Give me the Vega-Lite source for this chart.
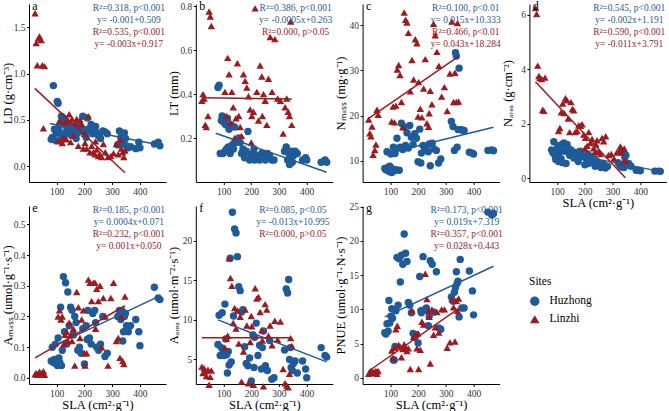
{
  "$schema": "https://vega.github.io/schema/vega-lite/v6.json",
  "background": "white",
  "padding": {"left": 1, "top": 0, "right": 0, "bottom": 0},
  "config": {
    "view": {"stroke": null},
    "font": "Liberation Serif",
    "axis": {"grid": false, "domainColor": "#000", "tickColor": "#000", "labelColor": "#333", "titleColor": "#000",
             "labelFont": "Liberation Serif", "titleFont": "Liberation Serif", "labelFontSize": 9.5, "titleFontSize": 12.5,
             "titleFontWeight": "normal", "tickSize": 2.5, "labelPadding": 1.5, "domainWidth": 1, "tickWidth": 1, "labelOverlap": false},
    "axisY": {"minExtent": 15, "maxExtent": 15, "titlePadding": 0},
    "axisX": {"titlePadding": 1},
    "range": {"category": ["#1f5b98", "#9c1b1f"], "symbol": ["circle", "triangle-up"]},
    "point": {"filled": true, "opacity": 1, "size": 55},
    "text": {"font": "Liberation Serif", "fontSize": 9.5},
    "legend": {"orient": "none", "legendX": 500, "legendY": 272, "titleFont": "Liberation Serif", "labelFont": "Liberation Serif",
               "titleFontSize": 11.5, "labelFontSize": 11.5, "titleFontWeight": "normal", "symbolSize": 90, "rowPadding": 2,
               "titlePadding": 8, "labelOffset": 9, "titleColor": "#000", "labelColor": "#000"}
  },
  "datasets": {
    "pts": [
      {"Site":"Huzhong","SLA":80,"LD":0.29,"LT":0.43,"Nmass":8.3,"Narea":1.05,"Amass":0.055,"Aarea":6.9,"PNUE":6.6},
      {"Site":"Huzhong","SLA":84,"LD":0.31,"LT":0.44,"Nmass":8.0,"Narea":0.95,"Amass":0.10,"Aarea":10.6,"PNUE":6.4},
      {"Site":"Huzhong","SLA":88,"LD":0.87,"LT":0.13,"Nmass":12.0,"Narea":1.35,"Amass":0.05,"Aarea":5.5,"PNUE":7.9},
      {"Site":"Huzhong","SLA":92,"LD":0.40,"LT":0.28,"Nmass":8.6,"Narea":0.85,"Amass":0.06,"Aarea":6.5,"PNUE":6.8},
      {"Site":"Huzhong","SLA":95,"LD":0.28,"LT":0.30,"Nmass":7.6,"Narea":0.70,"Amass":0.11,"Aarea":10.9,"PNUE":11.3},
      {"Site":"Huzhong","SLA":98,"LD":0.36,"LT":0.13,"Nmass":8.8,"Narea":1.00,"Amass":0.06,"Aarea":5.8,"PNUE":8.0},
      {"Site":"Huzhong","SLA":102,"LD":0.70,"LT":0.27,"Nmass":11.5,"Narea":1.20,"Amass":0.04,"Aarea":5.5,"PNUE":9.0},
      {"Site":"Huzhong","SLA":105,"LD":0.68,"LT":0.14,"Nmass":7.4,"Narea":0.62,"Amass":0.13,"Aarea":12.0,"PNUE":10.1},
      {"Site":"Huzhong","SLA":108,"LD":0.42,"LT":0.26,"Nmass":8.2,"Narea":0.95,"Amass":0.065,"Aarea":7.6,"PNUE":8.7},
      {"Site":"Huzhong","SLA":111,"LD":0.35,"LT":0.15,"Nmass":13.0,"Narea":1.10,"Amass":0.05,"Aarea":5.6,"PNUE":2.6},
      {"Site":"Huzhong","SLA":114,"LD":0.46,"LT":0.29,"Nmass":7.8,"Narea":0.72,"Amass":0.23,"Aarea":3.3,"PNUE":2.6},
      {"Site":"Huzhong","SLA":117,"LD":0.54,"LT":0.16,"Nmass":11.6,"Narea":1.25,"Amass":0.04,"Aarea":6.0,"PNUE":4.6},
      {"Site":"Huzhong","SLA":120,"LD":0.31,"LT":0.24,"Nmass":8.0,"Narea":0.58,"Amass":0.09,"Aarea":4.3,"PNUE":9.8},
      {"Site":"Huzhong","SLA":124,"LD":0.52,"LT":0.13,"Nmass":15.0,"Narea":1.30,"Amass":0.33,"Aarea":17.8,"PNUE":17.6},
      {"Site":"Huzhong","SLA":128,"LD":0.36,"LT":0.26,"Nmass":12.8,"Narea":1.00,"Amass":0.15,"Aarea":4.7,"PNUE":10.6},
      {"Site":"Huzhong","SLA":132,"LD":0.49,"LT":0.17,"Nmass":7.9,"Narea":0.55,"Amass":0.31,"Aarea":23.6,"PNUE":17.4},
      {"Site":"Huzhong","SLA":136,"LD":0.42,"LT":0.15,"Nmass":13.0,"Narea":1.25,"Amass":0.11,"Aarea":10.5,"PNUE":14.0},
      {"Site":"Huzhong","SLA":140,"LD":0.35,"LT":0.25,"Nmass":18.3,"Narea":1.10,"Amass":0.28,"Aarea":21.5,"PNUE":17.9},
      {"Site":"Huzhong","SLA":145,"LD":0.44,"LT":0.18,"Nmass":12.5,"Narea":0.85,"Amass":0.17,"Aarea":21.0,"PNUE":16.6},
      {"Site":"Huzhong","SLA":150,"LD":0.38,"LT":0.19,"Nmass":17.5,"Narea":1.05,"Amass":0.23,"Aarea":18.0,"PNUE":21.0},
      {"Site":"Huzhong","SLA":155,"LD":0.33,"LT":0.20,"Nmass":13.4,"Narea":0.92,"Amass":0.22,"Aarea":14.2,"PNUE":18.2},
      {"Site":"Huzhong","SLA":160,"LD":0.41,"LT":0.18,"Nmass":16.2,"Narea":0.75,"Amass":0.14,"Aarea":13.7,"PNUE":17.0},
      {"Site":"Huzhong","SLA":165,"LD":0.36,"LT":0.13,"Nmass":12.8,"Narea":0.95,"Amass":0.20,"Aarea":11.0,"PNUE":11.0},
      {"Site":"Huzhong","SLA":170,"LD":0.30,"LT":0.15,"Nmass":17.8,"Narea":0.80,"Amass":0.18,"Aarea":11.3,"PNUE":10.6},
      {"Site":"Huzhong","SLA":176,"LD":0.36,"LT":0.11,"Nmass":15.2,"Narea":0.62,"Amass":0.09,"Aarea":6.6,"PNUE":9.5},
      {"Site":"Huzhong","SLA":182,"LD":0.44,"LT":0.14,"Nmass":13.6,"Narea":1.00,"Amass":0.10,"Aarea":4.5,"PNUE":6.5},
      {"Site":"Huzhong","SLA":188,"LD":0.42,"LT":0.23,"Nmass":16.0,"Narea":0.85,"Amass":0.08,"Aarea":4.2,"PNUE":5.9},
      {"Site":"Huzhong","SLA":194,"LD":0.54,"LT":0.10,"Nmass":15.0,"Narea":0.80,"Amass":0.16,"Aarea":5.2,"PNUE":6.3},
      {"Site":"Huzhong","SLA":200,"LD":0.36,"LT":0.12,"Nmass":9.8,"Narea":0.50,"Amass":0.045,"Aarea":2.3,"PNUE":5.1},
      {"Site":"Huzhong","SLA":206,"LD":0.31,"LT":0.13,"Nmass":17.0,"Narea":0.72,"Amass":0.17,"Aarea":8.1,"PNUE":14.8},
      {"Site":"Huzhong","SLA":210,"LD":0.52,"LT":0.15,"Nmass":9.5,"Narea":0.90,"Amass":0.125,"Aarea":4.0,"PNUE":9.8},
      {"Site":"Huzhong","SLA":212,"LD":0.40,"LT":0.10,"Nmass":11.7,"Narea":0.55,"Amass":0.22,"Aarea":7.8,"PNUE":9.5},
      {"Site":"Huzhong","SLA":218,"LD":0.38,"LT":0.11,"Nmass":13.4,"Narea":0.68,"Amass":0.13,"Aarea":9.6,"PNUE":17.7},
      {"Site":"Huzhong","SLA":224,"LD":0.45,"LT":0.12,"Nmass":12.5,"Narea":0.60,"Amass":0.11,"Aarea":5.5,"PNUE":10.0},
      {"Site":"Huzhong","SLA":230,"LD":0.35,"LT":0.10,"Nmass":13.1,"Narea":0.82,"Amass":0.21,"Aarea":6.8,"PNUE":10.2},
      {"Site":"Huzhong","SLA":237,"LD":0.40,"LT":0.13,"Nmass":12.0,"Narea":0.45,"Amass":0.22,"Aarea":3.8,"PNUE":7.6},
      {"Site":"Huzhong","SLA":240,"LD":0.43,"LT":0.12,"Nmass":13.7,"Narea":0.65,"Amass":0.18,"Aarea":6.5,"PNUE":9.0},
      {"Site":"Huzhong","SLA":244,"LD":0.36,"LT":0.11,"Nmass":8.9,"Narea":0.62,"Amass":0.10,"Aarea":8.6,"PNUE":17.1},
      {"Site":"Huzhong","SLA":251,"LD":0.33,"LT":0.10,"Nmass":13.9,"Narea":0.50,"Amass":0.09,"Aarea":4.2,"PNUE":16.6},
      {"Site":"Huzhong","SLA":258,"LD":0.30,"LT":0.13,"Nmass":12.6,"Narea":0.40,"Amass":0.11,"Aarea":3.6,"PNUE":9.6},
      {"Site":"Huzhong","SLA":266,"LD":0.38,"LT":0.12,"Nmass":12.3,"Narea":0.55,"Amass":0.20,"Aarea":7.4,"PNUE":15.5},
      {"Site":"Huzhong","SLA":274,"LD":0.37,"LT":0.10,"Nmass":9.5,"Narea":0.38,"Amass":0.07,"Aarea":2.5,"PNUE":7.3},
      {"Site":"Huzhong","SLA":282,"LD":0.35,"LT":0.10,"Nmass":10.4,"Narea":0.45,"Amass":0.08,"Aarea":2.7,"PNUE":7.1},
      {"Site":"Huzhong","SLA":320,"LD":0.23,"LT":0.14,"Nmass":18.7,"Narea":0.58,"Amass":0.20,"Aarea":6.2,"PNUE":11.8},
      {"Site":"Huzhong","SLA":326,"LD":0.38,"LT":0.16,"Nmass":17.6,"Narea":0.48,"Amass":0.22,"Aarea":13.9,"PNUE":11.2},
      {"Site":"Huzhong","SLA":331,"LD":0.31,"LT":0.10,"Nmass":12.3,"Narea":0.42,"Amass":0.19,"Aarea":13.4,"PNUE":12.5},
      {"Site":"Huzhong","SLA":335,"LD":0.26,"LT":0.13,"Nmass":33.9,"Narea":1.00,"Amass":0.22,"Aarea":15.1,"PNUE":13.2},
      {"Site":"Huzhong","SLA":338,"LD":0.28,"LT":0.08,"Nmass":33.2,"Narea":0.95,"Amass":0.12,"Aarea":5.0,"PNUE":15.5},
      {"Site":"Huzhong","SLA":341,"LD":0.24,"LT":0.11,"Nmass":13.0,"Narea":0.40,"Amass":0.15,"Aarea":6.5,"PNUE":13.8},
      {"Site":"Huzhong","SLA":344,"LD":0.36,"LT":0.14,"Nmass":16.9,"Narea":0.78,"Amass":0.20,"Aarea":4.0,"PNUE":14.1},
      {"Site":"Huzhong","SLA":348,"LD":0.30,"LT":0.09,"Nmass":30.5,"Narea":0.85,"Amass":0.21,"Aarea":3.6,"PNUE":8.9},
      {"Site":"Huzhong","SLA":352,"LD":0.22,"LT":0.12,"Nmass":16.9,"Narea":0.50,"Amass":0.17,"Aarea":4.5,"PNUE":17.3},
      {"Site":"Huzhong","SLA":358,"LD":0.20,"LT":0.14,"Nmass":16.8,"Narea":0.55,"Amass":0.15,"Aarea":4.8,"PNUE":10.2},
      {"Site":"Huzhong","SLA":366,"LD":0.21,"LT":0.13,"Nmass":16.7,"Narea":0.45,"Amass":0.17,"Aarea":3.3,"PNUE":10.2},
      {"Site":"Huzhong","SLA":385,"LD":0.19,"LT":0.10,"Nmass":11.9,"Narea":0.30,"Amass":0.19,"Aarea":4.8,"PNUE":15.6},
      {"Site":"Huzhong","SLA":396,"LD":0.26,"LT":0.11,"Nmass":11.7,"Narea":0.30,"Amass":0.15,"Aarea":3.8,"PNUE":12.7},
      {"Site":"Huzhong","SLA":400,"LD":0.20,"LT":0.10,"Nmass":11.5,"Narea":0.28,"Amass":0.105,"Aarea":2.7,"PNUE":9.2},
      {"Site":"Huzhong","SLA":452,"LD":0.24,"LT":0.09,"Nmass":12.3,"Narea":0.27,"Amass":0.295,"Aarea":6.5,"PNUE":24.2},
      {"Site":"Huzhong","SLA":466,"LD":0.26,"LT":0.10,"Nmass":12.4,"Narea":0.27,"Amass":0.26,"Aarea":5.5,"PNUE":23.8},
      {"Site":"Huzhong","SLA":472,"LD":0.22,"LT":0.09,"Nmass":12.2,"Narea":0.26,"Amass":0.255,"Aarea":5.3,"PNUE":24.0},
      {"Site":"Linzhi","SLA":22,"LD":1.65,"LT":0.37,"Nmass":19.1,"Narea":6.25,"Amass":0.012,"Aarea":4.1,"PNUE":0.6},
      {"Site":"Linzhi","SLA":26,"LD":1.33,"LT":0.40,"Nmass":16.1,"Narea":6.03,"Amass":0.015,"Aarea":3.3,"PNUE":0.8},
      {"Site":"Linzhi","SLA":30,"LD":1.09,"LT":0.38,"Nmass":15.4,"Narea":4.14,"Amass":0.010,"Aarea":3.9,"PNUE":1.0},
      {"Site":"Linzhi","SLA":34,"LD":1.38,"LT":0.26,"Nmass":17.6,"Narea":3.76,"Amass":0.013,"Aarea":3.5,"PNUE":0.7},
      {"Site":"Linzhi","SLA":38,"LD":1.40,"LT":0.25,"Nmass":11.3,"Narea":3.69,"Amass":0.020,"Aarea":2.9,"PNUE":0.9},
      {"Site":"Linzhi","SLA":44,"LD":1.36,"LT":0.30,"Nmass":12.4,"Narea":3.65,"Amass":0.015,"Aarea":3.7,"PNUE":0.8},
      {"Site":"Linzhi","SLA":48,"LD":1.09,"LT":0.776,"Nmass":13.6,"Narea":2.52,"Amass":0.012,"Aarea":1.8,"PNUE":1.0},
      {"Site":"Linzhi","SLA":52,"LD":0.41,"LT":0.753,"Nmass":21.3,"Narea":2.48,"Amass":0.022,"Aarea":2.8,"PNUE":0.6},
      {"Site":"Linzhi","SLA":56,"LD":1.08,"LT":0.71,"Nmass":20.2,"Narea":3.70,"Amass":0.010,"Aarea":3.6,"PNUE":1.0},
      {"Site":"Linzhi","SLA":105,"LD":0.27,"LT":0.41,"Nmass":18.7,"Narea":1.74,"Amass":0.20,"Aarea":6.5,"PNUE":4.0},
      {"Site":"Linzhi","SLA":110,"LD":0.49,"LT":0.30,"Nmass":22.0,"Narea":1.85,"Amass":0.22,"Aarea":7.6,"PNUE":2.9},
      {"Site":"Linzhi","SLA":115,"LD":0.28,"LT":0.565,"Nmass":18.5,"Narea":2.43,"Amass":0.19,"Aarea":8.0,"PNUE":4.4},
      {"Site":"Linzhi","SLA":120,"LD":0.25,"LT":0.49,"Nmass":22.2,"Narea":2.75,"Amass":0.20,"Aarea":17.8,"PNUE":7.1},
      {"Site":"Linzhi","SLA":125,"LD":0.30,"LT":0.27,"Nmass":30.2,"Narea":2.40,"Amass":0.11,"Aarea":15.3,"PNUE":7.6},
      {"Site":"Linzhi","SLA":130,"LD":0.47,"LT":0.41,"Nmass":31.2,"Narea":2.94,"Amass":0.14,"Aarea":14.3,"PNUE":4.8},
      {"Site":"Linzhi","SLA":135,"LD":0.29,"LT":0.34,"Nmass":29.0,"Narea":2.87,"Amass":0.15,"Aarea":9.6,"PNUE":4.6},
      {"Site":"Linzhi","SLA":140,"LD":0.49,"LT":0.20,"Nmass":23.0,"Narea":2.20,"Amass":0.12,"Aarea":11.5,"PNUE":3.0},
      {"Site":"Linzhi","SLA":145,"LD":0.56,"LT":0.29,"Nmass":17.4,"Narea":1.70,"Amass":0.18,"Aarea":8.9,"PNUE":4.2},
      {"Site":"Linzhi","SLA":150,"LD":0.26,"LT":0.54,"Nmass":42.8,"Narea":2.80,"Amass":0.14,"Aarea":11.2,"PNUE":4.9},
      {"Site":"Linzhi","SLA":155,"LD":0.51,"LT":0.30,"Nmass":41.2,"Narea":2.55,"Amass":0.12,"Aarea":7.0,"PNUE":4.4},
      {"Site":"Linzhi","SLA":160,"LD":0.33,"LT":0.25,"Nmass":40.6,"Narea":2.50,"Amass":0.16,"Aarea":10.4,"PNUE":3.9},
      {"Site":"Linzhi","SLA":165,"LD":0.47,"LT":0.21,"Nmass":38.3,"Narea":1.70,"Amass":0.04,"Aarea":2.2,"PNUE":4.3},
      {"Site":"Linzhi","SLA":172,"LD":0.51,"LT":0.49,"Nmass":25.4,"Narea":1.74,"Amass":0.28,"Aarea":6.0,"PNUE":1.3},
      {"Site":"Linzhi","SLA":178,"LD":0.22,"LT":0.46,"Nmass":32.3,"Narea":1.95,"Amass":0.23,"Aarea":11.3,"PNUE":9.8},
      {"Site":"Linzhi","SLA":184,"LD":0.50,"LT":0.43,"Nmass":28.0,"Narea":1.93,"Amass":0.13,"Aarea":9.3,"PNUE":6.0},
      {"Site":"Linzhi","SLA":190,"LD":0.45,"LT":0.39,"Nmass":36.9,"Narea":1.99,"Amass":0.19,"Aarea":2.0,"PNUE":6.3},
      {"Site":"Linzhi","SLA":196,"LD":0.19,"LT":0.33,"Nmass":36.0,"Narea":1.61,"Amass":0.22,"Aarea":7.2,"PNUE":4.3},
      {"Site":"Linzhi","SLA":200,"LD":0.35,"LT":0.18,"Nmass":19.8,"Narea":1.10,"Amass":0.08,"Aarea":10.5,"PNUE":6.5},
      {"Site":"Linzhi","SLA":202,"LD":0.25,"LT":0.30,"Nmass":27.4,"Narea":1.49,"Amass":0.04,"Aarea":9.2,"PNUE":1.3},
      {"Site":"Linzhi","SLA":208,"LD":0.19,"LT":0.32,"Nmass":21.5,"Narea":1.20,"Amass":0.08,"Aarea":1.8,"PNUE":4.1},
      {"Site":"Linzhi","SLA":214,"LD":0.54,"LT":0.79,"Nmass":19.6,"Narea":1.70,"Amass":0.32,"Aarea":14.0,"PNUE":8.2},
      {"Site":"Linzhi","SLA":220,"LD":0.15,"LT":0.41,"Nmass":26.0,"Narea":1.30,"Amass":0.31,"Aarea":12.7,"PNUE":7.8},
      {"Site":"Linzhi","SLA":226,"LD":0.22,"LT":0.28,"Nmass":32.5,"Narea":1.45,"Amass":0.25,"Aarea":12.9,"PNUE":15.2},
      {"Site":"Linzhi","SLA":232,"LD":0.15,"LT":0.53,"Nmass":18.3,"Narea":1.11,"Amass":0.31,"Aarea":11.0,"PNUE":11.5},
      {"Site":"Linzhi","SLA":238,"LD":0.13,"LT":0.48,"Nmass":17.5,"Narea":0.98,"Amass":0.31,"Aarea":8.7,"PNUE":9.8},
      {"Site":"Linzhi","SLA":240,"LD":0.27,"LT":0.30,"Nmass":20.5,"Narea":1.25,"Amass":0.16,"Aarea":7.4,"PNUE":8.9},
      {"Site":"Linzhi","SLA":244,"LD":0.18,"LT":0.40,"Nmass":25.5,"Narea":1.40,"Amass":0.29,"Aarea":1.6,"PNUE":2.1},
      {"Site":"Linzhi","SLA":250,"LD":0.11,"LT":0.37,"Nmass":22.5,"Narea":1.00,"Amass":0.25,"Aarea":12.0,"PNUE":10.0},
      {"Site":"Linzhi","SLA":256,"LD":0.13,"LT":0.26,"Nmass":40.3,"Narea":0.90,"Amass":0.30,"Aarea":11.3,"PNUE":6.3},
      {"Site":"Linzhi","SLA":262,"LD":0.10,"LT":0.47,"Nmass":37.8,"Narea":1.49,"Amass":0.10,"Aarea":8.0,"PNUE":7.4},
      {"Site":"Linzhi","SLA":268,"LD":0.24,"LT":0.66,"Nmass":34.1,"Narea":1.36,"Amass":0.26,"Aarea":9.3,"PNUE":9.6},
      {"Site":"Linzhi","SLA":275,"LD":0.15,"LT":0.41,"Nmass":31.0,"Narea":1.55,"Amass":0.20,"Aarea":6.8,"PNUE":6.6},
      {"Site":"Linzhi","SLA":285,"LD":0.10,"LT":0.65,"Nmass":24.2,"Narea":0.86,"Amass":0.04,"Aarea":9.9,"PNUE":10.0},
      {"Site":"Linzhi","SLA":295,"LD":0.11,"LT":0.38,"Nmass":26.3,"Narea":0.90,"Amass":0.26,"Aarea":7.5,"PNUE":10.0},
      {"Site":"Linzhi","SLA":305,"LD":0.14,"LT":0.37,"Nmass":21.0,"Narea":0.73,"Amass":0.31,"Aarea":9.8,"PNUE":4.4},
      {"Site":"Linzhi","SLA":315,"LD":0.24,"LT":0.22,"Nmass":29.3,"Narea":0.95,"Amass":0.12,"Aarea":3.8,"PNUE":5.2},
      {"Site":"Linzhi","SLA":322,"LD":0.13,"LT":0.34,"Nmass":40.8,"Narea":0.98,"Amass":0.13,"Aarea":2.0,"PNUE":11.5},
      {"Site":"Linzhi","SLA":328,"LD":0.29,"LT":0.38,"Nmass":23.0,"Narea":1.17,"Amass":0.065,"Aarea":1.7,"PNUE":10.3},
      {"Site":"Linzhi","SLA":333,"LD":0.19,"LT":0.32,"Nmass":29.5,"Narea":0.95,"Amass":0.20,"Aarea":1.5,"PNUE":5.3},
      {"Site":"Linzhi","SLA":338,"LD":0.15,"LT":0.30,"Nmass":23.0,"Narea":0.60,"Amass":0.055,"Aarea":3.2,"PNUE":11.2},
      {"Site":"Linzhi","SLA":342,"LD":0.10,"LT":0.73,"Nmass":40.5,"Narea":1.10,"Amass":0.045,"Aarea":7.7,"PNUE":9.8},
      {"Site":"Linzhi","SLA":346,"LD":0.17,"LT":0.26,"Nmass":23.1,"Narea":0.65,"Amass":0.265,"Aarea":6.7,"PNUE":11.6}
    ],
    "fits": [
      {"panel":"a","Site":"Huzhong","x1":75,"y1":0.46,"x2":472,"y2":0.23},
      {"panel":"a","Site":"Linzhi","x1":21,"y1":0.84,"x2":346,"y2":-0.07},
      {"panel":"b","Site":"Huzhong","x1":72,"y1":0.222,"x2":472,"y2":0.044},
      {"panel":"b","Site":"Linzhi","x1":22,"y1":0.383,"x2":346,"y2":0.378},
      {"panel":"c","Site":"Huzhong","x1":80,"y1":11.5,"x2":472,"y2":17.4},
      {"panel":"c","Site":"Linzhi","x1":22,"y1":19.4,"x2":346,"y2":33.1},
      {"panel":"d","Site":"Huzhong","x1":80,"y1":1.03,"x2":472,"y2":0.26},
      {"panel":"d","Site":"Linzhi","x1":22,"y1":3.55,"x2":346,"y2":0.03},
      {"panel":"e","Site":"Huzhong","x1":80,"y1":0.10,"x2":472,"y2":0.267},
      {"panel":"e","Site":"Linzhi","x1":22,"y1":0.065,"x2":346,"y2":0.235},
      {"panel":"f","Site":"Huzhong","x1":80,"y1":10.0,"x2":472,"y2":4.7},
      {"panel":"f","Site":"Linzhi","x1":22,"y1":7.75,"x2":346,"y2":7.75},
      {"panel":"g","Site":"Huzhong","x1":80,"y1":8.9,"x2":472,"y2":16.3},
      {"panel":"g","Site":"Linzhi","x1":22,"y1":1.0,"x2":346,"y2":10.1}
    ],
    "notes": [
      {"panel":"a","Site":"Huzhong","label":"R²=0.318, p<0.001\ny= -0.001+0.509"},
      {"panel":"a","Site":"Linzhi","label":"R²=0.535, p<0.001\ny= -0.003x+0.917"},
      {"panel":"b","Site":"Huzhong","label":"R²=0.386, p<0.001\ny= -0.0005x+0.263"},
      {"panel":"b","Site":"Linzhi","label":"R²=0.000, p>0.05"},
      {"panel":"c","Site":"Huzhong","label":"R²=0.100, p<0.01\ny= 0.015x+10.333"},
      {"panel":"c","Site":"Linzhi","label":"R²=0.466, p<0.01\ny= 0.043x+18.284"},
      {"panel":"d","Site":"Huzhong","label":"R²=0.545, p<0.001\ny= -0.002x+1.191"},
      {"panel":"d","Site":"Linzhi","label":"R²=0.590, p<0.001\ny= -0.011x+3.791"},
      {"panel":"e","Site":"Huzhong","label":"R²=0.185, p<0.001\ny= 0.0004x+0.071"},
      {"panel":"e","Site":"Linzhi","label":"R²=0.232, p<0.001\ny= 0.001x+0.050"},
      {"panel":"f","Site":"Huzhong","label":"R²=0.085, p<0.05\ny= -0.013x+10.995"},
      {"panel":"f","Site":"Linzhi","label":"R²=0.000, p>0.05"},
      {"panel":"g","Site":"Huzhong","label":"R²=0.173, p<0.001\ny= 0.019x+7.319"},
      {"panel":"g","Site":"Linzhi","label":"R²=0.357, p<0.001\ny= 0.028x+0.443"}
    ]
  },
  "columns": 4,
  "bounds": "flush",
  "spacing": {"row": 24, "column": 29.8},
  "concat": [
    {
      "width": 137, "height": 178,
      "layer": [
        {"data": {"name": "pts"}, "mark": "point",
         "encoding": {
           "x": {"field": "SLA", "type": "quantitative", "scale": {"domain": [0, 494], "nice": false, "zero": false}, "axis": {"values": [100, 200, 300, 400], "title": null}},
           "y": {"field": "LD", "type": "quantitative", "scale": {"domain": [-0.17, 1.75], "nice": false, "zero": false}, "axis": {"values": [0, 0.5, 1, 1.5], "format": ".1f", "title": "LD (g·cm⁻³)"}},
           "color": {"field": "Site", "type": "nominal", "title": "Sites"},
           "shape": {"field": "Site", "type": "nominal", "title": "Sites"}}},
        {"data": {"name": "fits"}, "transform": [{"filter": "datum.panel == 'a'"}], "mark": {"type": "rule", "strokeWidth": 1.5},
         "encoding": {
           "x": {"field": "x1", "type": "quantitative", "axis": {"values": [100, 200, 300, 400], "title": null}},
           "y": {"field": "y1", "type": "quantitative", "axis": {"values": [0, 0.5, 1, 1.5], "format": ".1f", "title": "LD (g·cm⁻³)"}},
           "x2": {"field": "x2"}, "y2": {"field": "y2"}, "stroke": {"field": "Site", "type": "nominal", "legend": null}}},
        {"data": {"name": "notes"}, "transform": [{"filter": "datum.panel == 'a' && datum.Site == 'Huzhong'"}], "mark": {"type": "text", "align": "center", "baseline": "top", "lineBreak": "\n", "lineHeight": 11.7, "dy": -1, "color": "#1f5b98"},
         "encoding": {"x": {"datum": 360, "axis": {"values": [100, 200, 300, 400], "title": null}}, "y": {"datum": 1.75, "axis": {"values": [0, 0.5, 1, 1.5], "format": ".1f", "title": "LD (g·cm⁻³)"}}, "text": {"field": "label"}}},
        {"data": {"name": "notes"}, "transform": [{"filter": "datum.panel == 'a' && datum.Site == 'Linzhi'"}], "mark": {"type": "text", "align": "center", "baseline": "top", "lineBreak": "\n", "lineHeight": 11.7, "dy": 23, "color": "#9c1b1f"},
         "encoding": {"x": {"datum": 360, "axis": {"values": [100, 200, 300, 400], "title": null}}, "y": {"datum": 1.75, "axis": {"values": [0, 0.5, 1, 1.5], "format": ".1f", "title": "LD (g·cm⁻³)"}}, "text": {"field": "label"}}},
        {"data": {"name": "notes"}, "transform": [{"filter": "datum.panel == 'a' && datum.Site == 'Huzhong'"}], "mark": {"type": "text", "align": "left", "baseline": "top", "fontSize": 12, "dy": -3, "text": "a", "color": "#000"},
         "encoding": {"x": {"datum": 12, "axis": {"values": [100, 200, 300, 400], "title": null}}, "y": {"datum": 1.75, "axis": {"values": [0, 0.5, 1, 1.5], "format": ".1f", "title": "LD (g·cm⁻³)"}}}}
      ]
    },
    {
      "width": 137, "height": 178,
      "layer": [
        {"data": {"name": "pts"}, "mark": "point",
         "encoding": {
           "x": {"field": "SLA", "type": "quantitative", "scale": {"domain": [0, 494], "nice": false, "zero": false}, "axis": {"values": [100, 200, 300, 400], "title": null}},
           "y": {"field": "LT", "type": "quantitative", "scale": {"domain": [0, 0.81], "nice": false, "zero": false}, "axis": {"values": [0.2, 0.4, 0.6, 0.8], "format": ".1f", "title": "LT (mm)"}},
           "color": {"field": "Site", "type": "nominal", "title": "Sites"},
           "shape": {"field": "Site", "type": "nominal", "title": "Sites"}}},
        {"data": {"name": "fits"}, "transform": [{"filter": "datum.panel == 'b'"}], "mark": {"type": "rule", "strokeWidth": 1.5},
         "encoding": {
           "x": {"field": "x1", "type": "quantitative", "axis": {"values": [100, 200, 300, 400], "title": null}},
           "y": {"field": "y1", "type": "quantitative", "axis": {"values": [0.2, 0.4, 0.6, 0.8], "format": ".1f", "title": "LT (mm)"}},
           "x2": {"field": "x2"}, "y2": {"field": "y2"}, "stroke": {"field": "Site", "type": "nominal", "legend": null}}},
        {"data": {"name": "notes"}, "transform": [{"filter": "datum.panel == 'b' && datum.Site == 'Huzhong'"}], "mark": {"type": "text", "align": "center", "baseline": "top", "lineBreak": "\n", "lineHeight": 11.7, "dy": -1, "color": "#1f5b98"},
         "encoding": {"x": {"datum": 360, "axis": {"values": [100, 200, 300, 400], "title": null}}, "y": {"datum": 0.81, "axis": {"values": [0.2, 0.4, 0.6, 0.8], "format": ".1f", "title": "LT (mm)"}}, "text": {"field": "label"}}},
        {"data": {"name": "notes"}, "transform": [{"filter": "datum.panel == 'b' && datum.Site == 'Linzhi'"}], "mark": {"type": "text", "align": "center", "baseline": "top", "lineBreak": "\n", "lineHeight": 11.7, "dy": 23, "color": "#9c1b1f"},
         "encoding": {"x": {"datum": 360, "axis": {"values": [100, 200, 300, 400], "title": null}}, "y": {"datum": 0.81, "axis": {"values": [0.2, 0.4, 0.6, 0.8], "format": ".1f", "title": "LT (mm)"}}, "text": {"field": "label"}}},
        {"data": {"name": "notes"}, "transform": [{"filter": "datum.panel == 'b' && datum.Site == 'Huzhong'"}], "mark": {"type": "text", "align": "left", "baseline": "top", "fontSize": 12, "dy": -3, "text": "b", "color": "#000"},
         "encoding": {"x": {"datum": 12, "axis": {"values": [100, 200, 300, 400], "title": null}}, "y": {"datum": 0.81, "axis": {"values": [0.2, 0.4, 0.6, 0.8], "format": ".1f", "title": "LT (mm)"}}}}
      ]
    },
    {
      "width": 137, "height": 178,
      "layer": [
        {"data": {"name": "pts"}, "mark": "point",
         "encoding": {
           "x": {"field": "SLA", "type": "quantitative", "scale": {"domain": [0, 494], "nice": false, "zero": false}, "axis": {"values": [100, 200, 300, 400], "title": null}},
           "y": {"field": "Nmass", "type": "quantitative", "scale": {"domain": [5.3, 44.7], "nice": false, "zero": false}, "axis": {"values": [10, 20, 30, 40], "title": "Nₘₐₛₛ (mg·g⁻¹)"}},
           "color": {"field": "Site", "type": "nominal", "title": "Sites"},
           "shape": {"field": "Site", "type": "nominal", "title": "Sites"}}},
        {"data": {"name": "fits"}, "transform": [{"filter": "datum.panel == 'c'"}], "mark": {"type": "rule", "strokeWidth": 1.5},
         "encoding": {
           "x": {"field": "x1", "type": "quantitative", "axis": {"values": [100, 200, 300, 400], "title": null}},
           "y": {"field": "y1", "type": "quantitative", "axis": {"values": [10, 20, 30, 40], "title": "Nₘₐₛₛ (mg·g⁻¹)"}},
           "x2": {"field": "x2"}, "y2": {"field": "y2"}, "stroke": {"field": "Site", "type": "nominal", "legend": null}}},
        {"data": {"name": "notes"}, "transform": [{"filter": "datum.panel == 'c' && datum.Site == 'Huzhong'"}], "mark": {"type": "text", "align": "center", "baseline": "top", "lineBreak": "\n", "lineHeight": 11.7, "dy": -1, "color": "#1f5b98"},
         "encoding": {"x": {"datum": 372, "axis": {"values": [100, 200, 300, 400], "title": null}}, "y": {"datum": 44.7, "axis": {"values": [10, 20, 30, 40], "title": "Nₘₐₛₛ (mg·g⁻¹)"}}, "text": {"field": "label"}}},
        {"data": {"name": "notes"}, "transform": [{"filter": "datum.panel == 'c' && datum.Site == 'Linzhi'"}], "mark": {"type": "text", "align": "center", "baseline": "top", "lineBreak": "\n", "lineHeight": 11.7, "dy": 23, "color": "#9c1b1f"},
         "encoding": {"x": {"datum": 372, "axis": {"values": [100, 200, 300, 400], "title": null}}, "y": {"datum": 44.7, "axis": {"values": [10, 20, 30, 40], "title": "Nₘₐₛₛ (mg·g⁻¹)"}}, "text": {"field": "label"}}},
        {"data": {"name": "notes"}, "transform": [{"filter": "datum.panel == 'c' && datum.Site == 'Huzhong'"}], "mark": {"type": "text", "align": "left", "baseline": "top", "fontSize": 12, "dy": -3, "text": "c", "color": "#000"},
         "encoding": {"x": {"datum": 12, "axis": {"values": [100, 200, 300, 400], "title": null}}, "y": {"datum": 44.7, "axis": {"values": [10, 20, 30, 40], "title": "Nₘₐₛₛ (mg·g⁻¹)"}}}}
      ]
    },
    {
      "width": 137, "height": 178,
      "layer": [
        {"data": {"name": "pts"}, "mark": "point",
         "encoding": {
           "x": {"field": "SLA", "type": "quantitative", "scale": {"domain": [0, 494], "nice": false, "zero": false}, "axis": {"values": [100, 200, 300, 400], "title": "SLA (cm²·g⁻¹)"}},
           "y": {"field": "Narea", "type": "quantitative", "scale": {"domain": [-0.13, 6.4], "nice": false, "zero": false}, "axis": {"values": [0, 2, 4, 6], "title": "Nₐᵣₑₐ (g·cm⁻²)"}},
           "color": {"field": "Site", "type": "nominal", "title": "Sites"},
           "shape": {"field": "Site", "type": "nominal", "title": "Sites"}}},
        {"data": {"name": "fits"}, "transform": [{"filter": "datum.panel == 'd'"}], "mark": {"type": "rule", "strokeWidth": 1.5},
         "encoding": {
           "x": {"field": "x1", "type": "quantitative", "axis": {"values": [100, 200, 300, 400], "title": "SLA (cm²·g⁻¹)"}},
           "y": {"field": "y1", "type": "quantitative", "axis": {"values": [0, 2, 4, 6], "title": "Nₐᵣₑₐ (g·cm⁻²)"}},
           "x2": {"field": "x2"}, "y2": {"field": "y2"}, "stroke": {"field": "Site", "type": "nominal", "legend": null}}},
        {"data": {"name": "notes"}, "transform": [{"filter": "datum.panel == 'd' && datum.Site == 'Huzhong'"}], "mark": {"type": "text", "align": "center", "baseline": "top", "lineBreak": "\n", "lineHeight": 11.7, "dy": -1, "color": "#1f5b98"},
         "encoding": {"x": {"datum": 360, "axis": {"values": [100, 200, 300, 400], "title": "SLA (cm²·g⁻¹)"}}, "y": {"datum": 6.4, "axis": {"values": [0, 2, 4, 6], "title": "Nₐᵣₑₐ (g·cm⁻²)"}}, "text": {"field": "label"}}},
        {"data": {"name": "notes"}, "transform": [{"filter": "datum.panel == 'd' && datum.Site == 'Linzhi'"}], "mark": {"type": "text", "align": "center", "baseline": "top", "lineBreak": "\n", "lineHeight": 11.7, "dy": 23, "color": "#9c1b1f"},
         "encoding": {"x": {"datum": 360, "axis": {"values": [100, 200, 300, 400], "title": "SLA (cm²·g⁻¹)"}}, "y": {"datum": 6.4, "axis": {"values": [0, 2, 4, 6], "title": "Nₐᵣₑₐ (g·cm⁻²)"}}, "text": {"field": "label"}}},
        {"data": {"name": "notes"}, "transform": [{"filter": "datum.panel == 'd' && datum.Site == 'Huzhong'"}], "mark": {"type": "text", "align": "left", "baseline": "top", "fontSize": 12, "dy": -3, "text": "d", "color": "#000"},
         "encoding": {"x": {"datum": 12, "axis": {"values": [100, 200, 300, 400], "title": "SLA (cm²·g⁻¹)"}}, "y": {"datum": 6.4, "axis": {"values": [0, 2, 4, 6], "title": "Nₐᵣₑₐ (g·cm⁻²)"}}}}
      ]
    },
    {
      "width": 137, "height": 178,
      "layer": [
        {"data": {"name": "pts"}, "mark": "point",
         "encoding": {
           "x": {"field": "SLA", "type": "quantitative", "scale": {"domain": [0, 494], "nice": false, "zero": false}, "axis": {"values": [100, 200, 300, 400], "title": "SLA (cm²·g⁻¹)"}},
           "y": {"field": "Amass", "type": "quantitative", "scale": {"domain": [-0.02, 0.56], "nice": false, "zero": false}, "axis": {"values": [0, 0.1, 0.2, 0.3, 0.4, 0.5], "format": ".1f", "title": "Aₘₐₛₛ (umol·g⁻¹·s⁻¹)"}},
           "color": {"field": "Site", "type": "nominal", "title": "Sites"},
           "shape": {"field": "Site", "type": "nominal", "title": "Sites"}}},
        {"data": {"name": "fits"}, "transform": [{"filter": "datum.panel == 'e'"}], "mark": {"type": "rule", "strokeWidth": 1.5},
         "encoding": {
           "x": {"field": "x1", "type": "quantitative", "axis": {"values": [100, 200, 300, 400], "title": "SLA (cm²·g⁻¹)"}},
           "y": {"field": "y1", "type": "quantitative", "axis": {"values": [0, 0.1, 0.2, 0.3, 0.4, 0.5], "format": ".1f", "title": "Aₘₐₛₛ (umol·g⁻¹·s⁻¹)"}},
           "x2": {"field": "x2"}, "y2": {"field": "y2"}, "stroke": {"field": "Site", "type": "nominal", "legend": null}}},
        {"data": {"name": "notes"}, "transform": [{"filter": "datum.panel == 'e' && datum.Site == 'Huzhong'"}], "mark": {"type": "text", "align": "center", "baseline": "top", "lineBreak": "\n", "lineHeight": 11.7, "dy": -1, "color": "#1f5b98"},
         "encoding": {"x": {"datum": 360, "axis": {"values": [100, 200, 300, 400], "title": "SLA (cm²·g⁻¹)"}}, "y": {"datum": 0.56, "axis": {"values": [0, 0.1, 0.2, 0.3, 0.4, 0.5], "format": ".1f", "title": "Aₘₐₛₛ (umol·g⁻¹·s⁻¹)"}}, "text": {"field": "label"}}},
        {"data": {"name": "notes"}, "transform": [{"filter": "datum.panel == 'e' && datum.Site == 'Linzhi'"}], "mark": {"type": "text", "align": "center", "baseline": "top", "lineBreak": "\n", "lineHeight": 11.7, "dy": 23, "color": "#9c1b1f"},
         "encoding": {"x": {"datum": 360, "axis": {"values": [100, 200, 300, 400], "title": "SLA (cm²·g⁻¹)"}}, "y": {"datum": 0.56, "axis": {"values": [0, 0.1, 0.2, 0.3, 0.4, 0.5], "format": ".1f", "title": "Aₘₐₛₛ (umol·g⁻¹·s⁻¹)"}}, "text": {"field": "label"}}},
        {"data": {"name": "notes"}, "transform": [{"filter": "datum.panel == 'e' && datum.Site == 'Huzhong'"}], "mark": {"type": "text", "align": "left", "baseline": "top", "fontSize": 12, "dy": -3, "text": "e", "color": "#000"},
         "encoding": {"x": {"datum": 12, "axis": {"values": [100, 200, 300, 400], "title": "SLA (cm²·g⁻¹)"}}, "y": {"datum": 0.56, "axis": {"values": [0, 0.1, 0.2, 0.3, 0.4, 0.5], "format": ".1f", "title": "Aₘₐₛₛ (umol·g⁻¹·s⁻¹)"}}}}
      ]
    },
    {
      "width": 137, "height": 178,
      "layer": [
        {"data": {"name": "pts"}, "mark": "point",
         "encoding": {
           "x": {"field": "SLA", "type": "quantitative", "scale": {"domain": [0, 494], "nice": false, "zero": false}, "axis": {"values": [100, 200, 300, 400], "title": "SLA (cm²·g⁻¹)"}},
           "y": {"field": "Aarea", "type": "quantitative", "scale": {"domain": [1.9, 24.4], "nice": false, "zero": false}, "axis": {"values": [5, 10, 15, 20], "title": "Aₐᵣₑₐ (umol·m⁻²·s⁻¹)"}},
           "color": {"field": "Site", "type": "nominal", "title": "Sites"},
           "shape": {"field": "Site", "type": "nominal", "title": "Sites"}}},
        {"data": {"name": "fits"}, "transform": [{"filter": "datum.panel == 'f'"}], "mark": {"type": "rule", "strokeWidth": 1.5},
         "encoding": {
           "x": {"field": "x1", "type": "quantitative", "axis": {"values": [100, 200, 300, 400], "title": "SLA (cm²·g⁻¹)"}},
           "y": {"field": "y1", "type": "quantitative", "axis": {"values": [5, 10, 15, 20], "title": "Aₐᵣₑₐ (umol·m⁻²·s⁻¹)"}},
           "x2": {"field": "x2"}, "y2": {"field": "y2"}, "stroke": {"field": "Site", "type": "nominal", "legend": null}}},
        {"data": {"name": "notes"}, "transform": [{"filter": "datum.panel == 'f' && datum.Site == 'Huzhong'"}], "mark": {"type": "text", "align": "center", "baseline": "top", "lineBreak": "\n", "lineHeight": 11.7, "dy": -1, "color": "#1f5b98"},
         "encoding": {"x": {"datum": 350, "axis": {"values": [100, 200, 300, 400], "title": "SLA (cm²·g⁻¹)"}}, "y": {"datum": 24.4, "axis": {"values": [5, 10, 15, 20], "title": "Aₐᵣₑₐ (umol·m⁻²·s⁻¹)"}}, "text": {"field": "label"}}},
        {"data": {"name": "notes"}, "transform": [{"filter": "datum.panel == 'f' && datum.Site == 'Linzhi'"}], "mark": {"type": "text", "align": "center", "baseline": "top", "lineBreak": "\n", "lineHeight": 11.7, "dy": 23, "color": "#9c1b1f"},
         "encoding": {"x": {"datum": 350, "axis": {"values": [100, 200, 300, 400], "title": "SLA (cm²·g⁻¹)"}}, "y": {"datum": 24.4, "axis": {"values": [5, 10, 15, 20], "title": "Aₐᵣₑₐ (umol·m⁻²·s⁻¹)"}}, "text": {"field": "label"}}},
        {"data": {"name": "notes"}, "transform": [{"filter": "datum.panel == 'f' && datum.Site == 'Huzhong'"}], "mark": {"type": "text", "align": "left", "baseline": "top", "fontSize": 12, "dy": -3, "text": "f", "color": "#000"},
         "encoding": {"x": {"datum": 12, "axis": {"values": [100, 200, 300, 400], "title": "SLA (cm²·g⁻¹)"}}, "y": {"datum": 24.4, "axis": {"values": [5, 10, 15, 20], "title": "Aₐᵣₑₐ (umol·m⁻²·s⁻¹)"}}}}
      ]
    },
    {
      "width": 137, "height": 178,
      "layer": [
        {"data": {"name": "pts"}, "mark": "point",
         "encoding": {
           "x": {"field": "SLA", "type": "quantitative", "scale": {"domain": [0, 494], "nice": false, "zero": false}, "axis": {"values": [100, 200, 300, 400], "title": "SLA (cm²·g⁻¹)"}},
           "y": {"field": "PNUE", "type": "quantitative", "scale": {"domain": [-0.9, 25.1], "nice": false, "zero": false}, "axis": {"values": [0, 5, 10, 15, 20, 25], "title": "PNUE (umol·g⁻¹·N·s⁻¹)"}},
           "color": {"field": "Site", "type": "nominal", "title": "Sites"},
           "shape": {"field": "Site", "type": "nominal", "title": "Sites"}}},
        {"data": {"name": "fits"}, "transform": [{"filter": "datum.panel == 'g'"}], "mark": {"type": "rule", "strokeWidth": 1.5},
         "encoding": {
           "x": {"field": "x1", "type": "quantitative", "axis": {"values": [100, 200, 300, 400], "title": "SLA (cm²·g⁻¹)"}},
           "y": {"field": "y1", "type": "quantitative", "axis": {"values": [0, 5, 10, 15, 20, 25], "title": "PNUE (umol·g⁻¹·N·s⁻¹)"}},
           "x2": {"field": "x2"}, "y2": {"field": "y2"}, "stroke": {"field": "Site", "type": "nominal", "legend": null}}},
        {"data": {"name": "notes"}, "transform": [{"filter": "datum.panel == 'g' && datum.Site == 'Huzhong'"}], "mark": {"type": "text", "align": "center", "baseline": "top", "lineBreak": "\n", "lineHeight": 11.7, "dy": -1, "color": "#1f5b98"},
         "encoding": {"x": {"datum": 375, "axis": {"values": [100, 200, 300, 400], "title": "SLA (cm²·g⁻¹)"}}, "y": {"datum": 25.1, "axis": {"values": [0, 5, 10, 15, 20, 25], "title": "PNUE (umol·g⁻¹·N·s⁻¹)"}}, "text": {"field": "label"}}},
        {"data": {"name": "notes"}, "transform": [{"filter": "datum.panel == 'g' && datum.Site == 'Linzhi'"}], "mark": {"type": "text", "align": "center", "baseline": "top", "lineBreak": "\n", "lineHeight": 11.7, "dy": 23, "color": "#9c1b1f"},
         "encoding": {"x": {"datum": 375, "axis": {"values": [100, 200, 300, 400], "title": "SLA (cm²·g⁻¹)"}}, "y": {"datum": 25.1, "axis": {"values": [0, 5, 10, 15, 20, 25], "title": "PNUE (umol·g⁻¹·N·s⁻¹)"}}, "text": {"field": "label"}}},
        {"data": {"name": "notes"}, "transform": [{"filter": "datum.panel == 'g' && datum.Site == 'Huzhong'"}], "mark": {"type": "text", "align": "left", "baseline": "top", "fontSize": 12, "dy": -3, "text": "g", "color": "#000"},
         "encoding": {"x": {"datum": 12, "axis": {"values": [100, 200, 300, 400], "title": "SLA (cm²·g⁻¹)"}}, "y": {"datum": 25.1, "axis": {"values": [0, 5, 10, 15, 20, 25], "title": "PNUE (umol·g⁻¹·N·s⁻¹)"}}}}
      ]
    }
  ]
}
